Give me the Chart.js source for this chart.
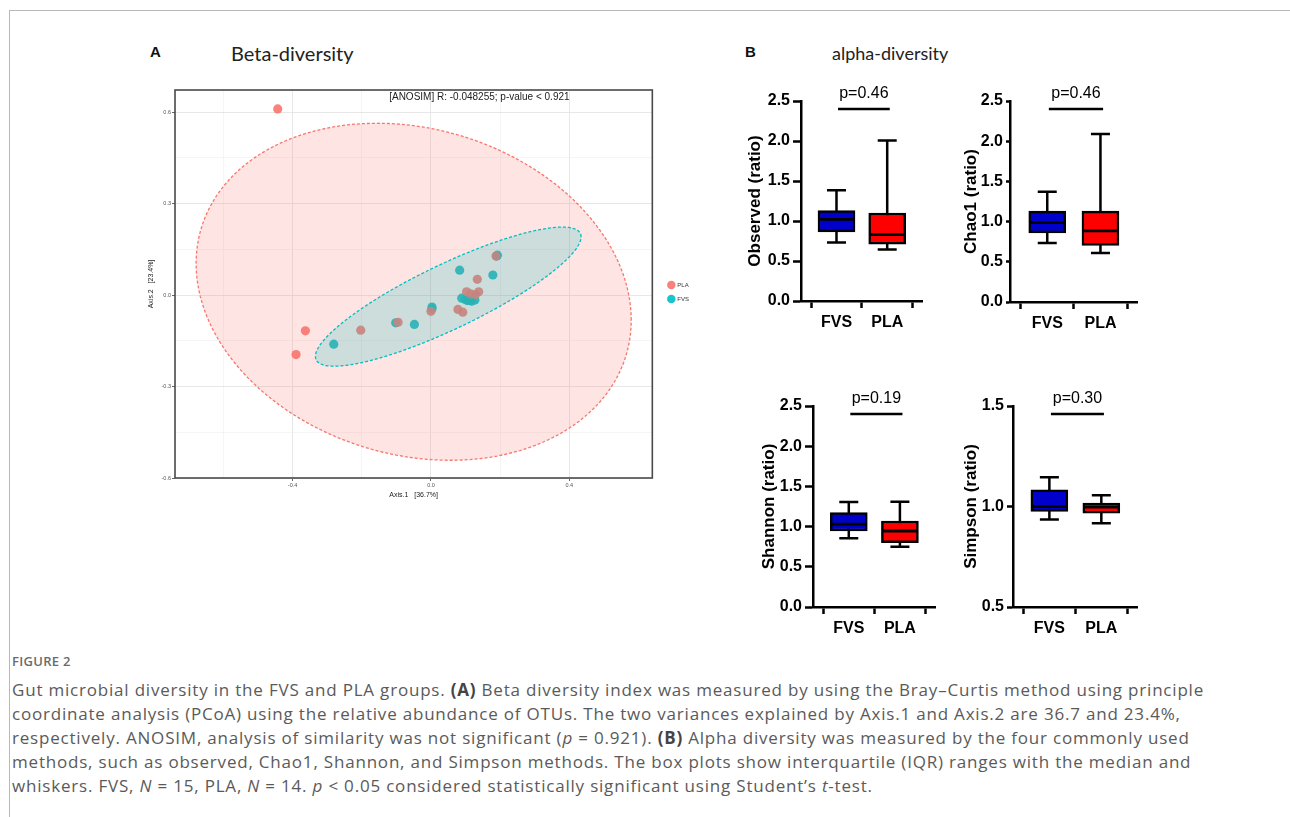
<!DOCTYPE html>
<html>
<head>
<meta charset="utf-8">
<script src="https://cdn.jsdelivr.net/npm/chart.js@4.4.1/dist/chart.umd.min.js"></script>
<style>
  body { margin: 0; width: 1290px; height: 817px; overflow: hidden; position: relative; background: #fff; font-family: "Liberation Sans", Arial, sans-serif; }
  .frame { position: absolute; left: 9px; top: 10px; width: 1300px; height: 820px; border-top: 1px solid #b8b8b8; border-left: 1px solid #b8b8b8; }
  canvas { position: absolute; }
  .lbl { position: absolute; white-space: nowrap; color: #111; }
  .panel { font-weight: bold; font-size: 15px; line-height: 18px; }
  .head { font-family: Lato, "Open Sans", sans-serif; line-height: 22px; color: #222; }
  #fig { position: absolute; left: 12px; top: 653px; font-family: "Open Sans", sans-serif; font-size: 13px; line-height: 16px; font-weight: 600; color: #6b6b6b; letter-spacing: 0.3px; }
  #cap { position: absolute; left: 12px; top: 678px; font-family: "Open Sans", sans-serif; font-size: 17px; line-height: 24px; letter-spacing: 0.8px; color: #5a5a5a; white-space: nowrap; }
  #cap b { color: #444; }
</style>
</head>
<body>
<div class="frame"></div>

<div class="lbl panel" style="left:150px; top:43px;">A</div>
<div class="lbl head" style="left:231px; top:42px; font-size:20px;">Beta-diversity</div>
<div class="lbl panel" style="left:745px; top:43px;">B</div>
<div class="lbl head" style="left:832px; top:42px; font-size:18px;">alpha-diversity</div>

<canvas id="pcoa" width="570" height="420" style="left:140px; top:80px; width:570px; height:420px;"></canvas>
<canvas id="box0"></canvas>
<canvas id="box1"></canvas>
<canvas id="box2"></canvas>
<canvas id="box3"></canvas>

<div id="fig">FIGURE 2</div>
<div id="cap">Gut microbial diversity in the FVS and PLA groups. <b>(A)</b> Beta diversity index was measured by using the Bray–Curtis method using principle<br>coordinate analysis (PCoA) using the relative abundance of OTUs. The two variances explained by Axis.1 and Axis.2 are 36.7 and 23.4%,<br>respectively. ANOSIM, analysis of similarity was not significant (<i>p</i> = 0.921). <b>(B)</b> Alpha diversity was measured by the four commonly used<br>methods, such as observed, Chao1, Shannon, and Simpson methods. The box plots show interquartile (IQR) ranges with the median and<br>whiskers. FVS, <i>N</i> = 15, PLA, <i>N</i> = 14. <i>p</i> &lt; 0.05 considered statistically significant using Student’s <i>t</i>-test.</div>

<script>
// ---- PCoA (beta diversity) ----
const plaAxis1 = [-0.443, -0.363, -0.390, -0.203, -0.095, 0.000, 0.078, 0.092, 0.103, 0.138, 0.129, 0.134, 0.188, 0.115];
const plaAxis2 = [0.611, -0.117, -0.195, -0.115, -0.089, -0.053, -0.047, -0.056, 0.011, 0.011, 0.002, 0.052, 0.128, 0.004];
const fvsAxis1 = [-0.281, -0.102, -0.048, 0.003, 0.083, 0.179, 0.192, 0.099, 0.112, 0.127, 0.089, 0.118, 0.105, 0.190, 0.003];
const fvsAxis2 = [-0.161, -0.091, -0.096, -0.039, 0.082, 0.066, 0.131, -0.014, -0.017, -0.016, -0.010, -0.020, -0.018, 0.128, -0.045];
// ellipse: centre x, centre y, then two half-diameter vectors (data units)
const plaEllipse = [-0.050, 0.011, 0.629, -0.093, 0.0, 0.545];
const fvsEllipse = [0.050, -0.005, 0.384, 0.196, 0.0, 0.117];
const anosimText = '[ANOSIM] R: -0.048255; p-value < 0.921';

// ---- alpha diversity box plots ----
const groups = ['FVS', 'PLA'];
const metrics = ['Observed', 'Chao1', 'Shannon', 'Simpson'];
const pValues = ['p=0.46', 'p=0.46', 'p=0.19', 'p=0.30'];
// [min, q1, median, q3, max]
const fvsStats = [
  [0.73, 0.865, 1.02, 1.13, 1.385],
  [0.735, 0.86, 0.99, 1.13, 1.37],
  [0.855, 0.945, 1.03, 1.175, 1.305],
  [0.935, 0.975, 1.0, 1.083, 1.146]
];
const plaStats = [
  [0.645, 0.71, 0.83, 1.10, 2.005],
  [0.61, 0.705, 0.885, 1.13, 2.09],
  [0.75, 0.80, 0.945, 1.07, 1.31],
  [0.917, 0.967, 0.997, 1.017, 1.056]
];
const yMin = [0, 0, 0, 0.5];
const yMax = [2.5, 2.5, 2.5, 1.5];
const bracketY = [2.4, 2.4, 2.4, 1.46];

const salmon = '248,118,109';
const teal = '0,191,196';

const onEvery = (v, step) => Math.abs(v / step - Math.round(v / step)) < 1e-6;

const pcoaPlugin = {
  id: 'pcoaExtras',
  afterLayout(chart) {
    // nudge the legend a little away from the panel, as ggplot does
    const lg = chart.legend;
    lg.left += 8; lg.right += 8;
    lg.top -= 3; lg.bottom -= 3;
  },
  afterDatasetsDraw(chart) {
    const { ctx, scales: { x, y } } = chart;
    [[plaEllipse, salmon], [fvsEllipse, teal]].forEach(([e, rgb]) => {
      ctx.save();
      ctx.beginPath();
      for (let i = 0; i <= 160; i++) {
        const t = i / 160 * Math.PI * 2;
        const px = x.getPixelForValue(e[0] + e[2] * Math.cos(t) + e[4] * Math.sin(t));
        const py = y.getPixelForValue(e[1] + e[3] * Math.cos(t) + e[5] * Math.sin(t));
        if (i === 0) ctx.moveTo(px, py); else ctx.lineTo(px, py);
      }
      ctx.closePath();
      ctx.fillStyle = 'rgba(' + rgb + ',0.2)';
      ctx.fill();
      ctx.setLineDash([3, 2]);
      ctx.lineWidth = 1.3;
      ctx.strokeStyle = 'rgb(' + rgb + ')';
      ctx.stroke();
      ctx.restore();
    });
  },
  afterDraw(chart) {
    const { ctx, chartArea: a } = chart;
    ctx.save();
    ctx.strokeStyle = '#4a4a4a';
    ctx.lineWidth = 1.6;
    ctx.strokeRect(a.left, a.top, a.right - a.left, a.bottom - a.top);
    ctx.fillStyle = '#222';
    ctx.font = '10px "Liberation Sans", Arial';
    ctx.textAlign = 'center';
    ctx.textBaseline = 'middle';
    ctx.fillText(anosimText, chart.scales.x.getPixelForValue(0.14), a.top + 7);
    ctx.restore();
  }
};

function pt(xs, ys) {
  return xs.map((v, i) => ({ x: v, y: ys[i] }));
}

new Chart(document.getElementById('pcoa'), {
  type: 'scatter',
  data: {
    datasets: [
      { label: 'PLA', data: pt(plaAxis1, plaAxis2), backgroundColor: 'rgba(' + salmon + ',0.9)', borderColor: 'rgba(' + salmon + ',0.9)', borderWidth: 0, pointRadius: 4.6 },
      { label: 'FVS', data: pt(fvsAxis1, fvsAxis2), backgroundColor: 'rgba(' + teal + ',0.9)', borderColor: 'rgba(' + teal + ',0.9)', borderWidth: 0, pointRadius: 4.6 }
    ]
  },
  options: {
    responsive: false,
    animation: false,
    layout: { padding: { top: 10, left: 0, right: 19, bottom: 0 } },
    plugins: {
      tooltip: { enabled: false },
      legend: {
        position: 'right',
        labels: { usePointStyle: true, pointStyle: 'circle', boxWidth: 7, boxHeight: 7, padding: 8, color: '#333', font: { size: 6 } }
      }
    },
    scales: {
      x: {
        type: 'linear', min: -0.74, max: 0.64,
        afterFit: s => { s.height = 22; },
        ticks: { stepSize: 0.2, autoSkip: false, maxRotation: 0, padding: 1, color: '#555', font: { size: 5.5 },
          callback: v => onEvery(v, 0.4) ? v.toFixed(1) : '' },
        grid: {
          color: c => c.tick && c.tick.label ? '#e4e4e4' : '#efefef',
          lineWidth: c => c.tick && c.tick.label ? 0.9 : 0.6,
          tickColor: c => c.tick && c.tick.label ? '#555' : 'rgba(0,0,0,0)',
          tickLength: 3
        },
        border: { display: false },
        title: { display: true, text: 'Axis.1   [36.7%]', color: '#1a1a1a', font: { size: 7 }, padding: { top: 0, bottom: 1 } }
      },
      y: {
        type: 'linear', min: -0.6, max: 0.673,
        afterFit: s => { s.width = 35; },
        ticks: { stepSize: 0.15, autoSkip: false, padding: 1, color: '#555', font: { size: 5.5 },
          callback: v => onEvery(v, 0.3) ? v.toFixed(1) : '' },
        grid: {
          color: c => c.tick && c.tick.label ? '#e4e4e4' : '#efefef',
          lineWidth: c => c.tick && c.tick.label ? 0.9 : 0.6,
          tickColor: c => c.tick && c.tick.label ? '#555' : 'rgba(0,0,0,0)',
          tickLength: 3
        },
        border: { display: false },
        title: { display: true, text: 'Axis.2   [23.4%]', color: '#1a1a1a', font: { size: 7 }, padding: { top: 7, bottom: 0 } }
      }
    }
  },
  plugins: [pcoaPlugin]
});

// ---- box plot panels ----
// axis line x, top y, bottom y, right end x, title gap, y tick length
const panelPos = [
  [801, 101, 301, 935, 3.8, 8],
  [1010, 101, 302, 1150, 10.8, 4],
  [813, 406, 607, 948, 5.8, 8],
  [1013, 406, 607, 1150, 7.8, 6]
];

const pLabelPlugin = {
  id: 'pLabel',
  afterDraw(chart) {
    const i = chart.options.plugins.pLabel.index;
    const { ctx, scales: { x, y } } = chart;
    ctx.save();
    ctx.fillStyle = '#000';
    ctx.font = '16px "Liberation Sans", Arial';
    ctx.textAlign = 'center';
    ctx.textBaseline = 'alphabetic';
    ctx.fillText(pValues[i], (x.getPixelForValue(0.03) + x.getPixelForValue(1.05)) / 2, y.getPixelForValue(bracketY[i]) - 11);
    ctx.restore();
  }
};

metrics.forEach((m, i) => {
  const [ax, top, bottom, right, gap, tickLen] = panelPos[i];
  const cv = document.getElementById('box' + i);
  const w = right - ax + 68, h = bottom - top + 65;
  cv.width = w; cv.height = h;
  cv.style.left = (ax - 60) + 'px';
  cv.style.top = (top - 25) + 'px';
  cv.style.width = w + 'px';
  cv.style.height = h + 'px';
  const f = fvsStats[i], p = plaStats[i];
  const black = '#000';
  new Chart(cv, {
    type: 'bar',
    data: {
      datasets: [
        { type: 'line', data: [{ x: 0, y: f[0] }, { x: 0, y: f[4] }], borderColor: black, borderWidth: 2.5, pointRadius: 0, order: 4 },
        { type: 'line', data: [{ x: 1, y: p[0] }, { x: 1, y: p[4] }], borderColor: black, borderWidth: 2.5, pointRadius: 0, order: 4 },
        { type: 'bar', data: [{ x: 0, y: [f[1], f[3]] }, { x: 1, y: [p[1], p[3]] }],
          backgroundColor: ['#0000cc', '#ff0000'], borderColor: black, borderWidth: 2.5, borderSkipped: false, barThickness: 37, order: 3 },
        { type: 'scatter', data: [{ x: 0, y: f[2] }, { x: 1, y: p[2] }], pointStyle: 'line', pointRadius: 17.5, borderColor: black, borderWidth: 2.8, order: 2 },
        { type: 'scatter', data: [{ x: 0, y: f[0] }, { x: 0, y: f[4] }, { x: 1, y: p[0] }, { x: 1, y: p[4] }], pointStyle: 'line', pointRadius: 9.5, borderColor: black, borderWidth: 2.5, order: 2 },
        { type: 'line', data: [{ x: 0.03, y: bracketY[i] }, { x: 1.05, y: bracketY[i] }], borderColor: black, borderWidth: 2.5, pointRadius: 0, order: 1 }
      ]
    },
    options: {
      responsive: false,
      animation: false,
      layout: { padding: { top: 25, left: 0, right: 8, bottom: 0 } },
      plugins: { legend: { display: false }, tooltip: { enabled: false }, pLabel: { index: i } },
      scales: {
        x: {
          type: 'linear', min: -0.7, max: 1.7, offset: false,
          afterFit: s => { s.height = 40; },
          afterBuildTicks: s => { s.ticks = [{ value: 0 }, { value: 1 }]; },
          ticks: { callback: v => groups[v], color: black, padding: 5, font: { size: 16, weight: 'bold' }, maxRotation: 0 },
          grid: { drawOnChartArea: false, tickLength: 7, tickWidth: 2.5, tickColor: black },
          border: { color: black, width: 2.5 }
        },
        y: {
          min: yMin[i], max: yMax[i],
          afterFit: s => { s.width = 60; },
          ticks: { stepSize: 0.5, callback: v => v.toFixed(1), color: black, padding: 3, font: { size: 16, weight: 'bold' } },
          grid: { drawOnChartArea: false, tickLength: tickLen, tickWidth: 2.5, tickColor: black },
          border: { color: black, width: 2.5 },
          title: { display: true, text: m + ' (ratio)', color: black, font: { size: 17, weight: 'bold' }, padding: { top: gap, bottom: 0 } }
        }
      }
    },
    plugins: [pLabelPlugin]
  });
});
</script>
</body>
</html>
